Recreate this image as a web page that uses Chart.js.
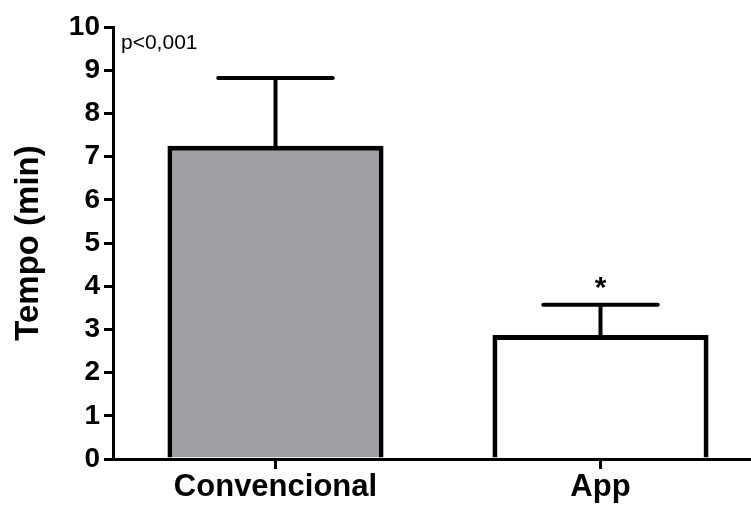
<!DOCTYPE html>
<html>
<head>
<meta charset="utf-8">
<script src="https://cdn.jsdelivr.net/npm/chart.js@4/dist/chart.umd.min.js"></script>
<style>
  html, body { margin: 0; padding: 0; background: #ffffff; overflow: hidden; width: 751px; height: 506px; }
  #wrap { width: 763px; height: 506px; }
</style>
</head>
<body>
<div id="wrap"><canvas id="c" width="763" height="506"></canvas></div>
<script>
// ---- data ----
const categories = ['Convencional', 'App'];
const meanValues = [7.25, 2.87];
const errorUpper = [8.82, 3.57];
const significanceMarks = ['', '*'];
const barColors = ['#a09fa4', '#ffffff'];
const yTickMin = 0;
const yTickMax = 10;
const yTickStep = 1;
const yAxisTitle = 'Tempo (min)';
const pValueText = 'p<0,001';

const FONT = "'Liberation Sans', Arial, sans-serif";

const errorBarPlugin = {
  id: 'errorBars',
  afterDatasetsDraw(chart) {
    const ctx = chart.ctx;
    const xs = chart.scales.x, ys = chart.scales.y;
    const meta = chart.getDatasetMeta(0);
    ctx.save();
    ctx.strokeStyle = '#000';
    ctx.lineWidth = 4;
    ctx.lineCap = 'round';
    meanValues.forEach((v, i) => {
      const x = xs.getPixelForValue(i);
      const yTop = ys.getPixelForValue(v);
      const yErr = ys.getPixelForValue(errorUpper[i]);
      const capHalf = meta.data[i].width * 0.265;
      ctx.beginPath();
      ctx.moveTo(x, yTop);
      ctx.lineTo(x, yErr);
      ctx.moveTo(x - capHalf, yErr);
      ctx.lineTo(x + capHalf, yErr);
      ctx.stroke();
      if (significanceMarks[i]) {
        ctx.fillStyle = '#000';
        ctx.font = 'bold 30px ' + FONT;
        ctx.textAlign = 'center';
        ctx.textBaseline = 'alphabetic';
        ctx.fillText(significanceMarks[i], x, yErr - 8);
      }
    });
    // p-value note
    ctx.fillStyle = '#000';
    ctx.font = '21px ' + FONT;
    ctx.textAlign = 'left';
    ctx.textBaseline = 'middle';
    ctx.fillText(pValueText, chart.chartArea.left + 8, chart.chartArea.top + 16);
    ctx.restore();
  }
};

new Chart(document.getElementById('c'), {
  type: 'bar',
  data: {
    labels: categories,
    datasets: [{
      data: meanValues,
      backgroundColor: barColors,
      borderColor: '#000',
      borderWidth: 5,
      borderSkipped: 'start',
      categoryPercentage: 1,
      barPercentage: 0.665
    }]
  },
  options: {
    responsive: false,
    animation: false,
    devicePixelRatio: 1,
    layout: { padding: { top: 27, left: 0, right: 0, bottom: 0 } },
    plugins: { legend: { display: false }, tooltip: { enabled: false } },
    scales: {
      x: {
        offset: true,
        grid: { offset: false, drawOnChartArea: false, drawTicks: true, tickLength: 10, lineWidth: 3, color: '#000' },
        border: { display: true, color: '#000', width: 3 },
        ticks: { color: '#000', font: { family: FONT, size: 31, weight: 'bold' }, padding: 0, maxRotation: 0 },
        afterFit(scale) { scale.height = 47; }
      },
      y: {
        min: yTickMin,
        max: yTickMax,
        grid: { drawOnChartArea: false, drawTicks: true, tickLength: 9, lineWidth: 3, color: '#000' },
        border: { display: true, color: '#000', width: 3 },
        ticks: { stepSize: yTickStep, color: '#000', font: { family: FONT, size: 28, weight: 'bold' }, padding: 4 },
        title: { display: true, text: yAxisTitle, color: '#000', font: { family: FONT, size: 33, weight: 'bold' }, padding: { top: 9, bottom: 0 } },
        afterFit(scale) { scale.width = 113; }
      }
    }
  },
  plugins: [errorBarPlugin]
});
</script>
</body>
</html>
